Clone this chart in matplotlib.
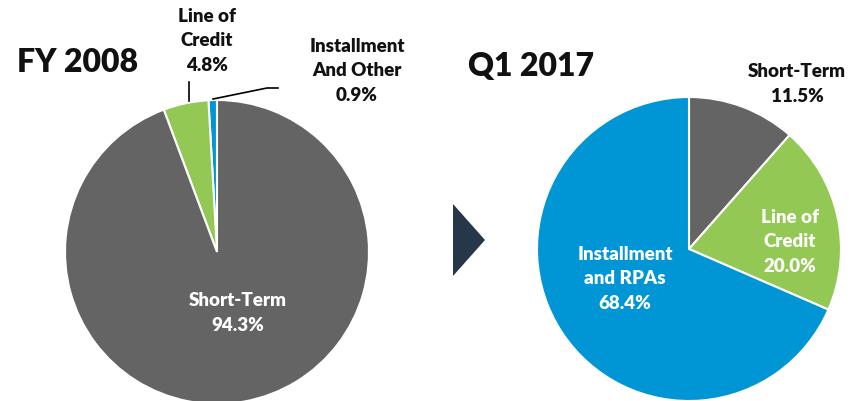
import matplotlib
matplotlib.use("Agg")
import matplotlib.pyplot as plt
from matplotlib.patches import Polygon

# ---- data ----
fy2008_labels = ["Installment And Other", "Line of Credit", "Short-Term"]
fy2008_values = [0.9, 4.8, 94.3]
fy2008_colors = ["#0096D6", "#92C853", "#646464"]

q12017_labels = ["Short-Term", "Line of Credit", "Installment and RPAs"]
q12017_values = [11.5, 20.0, 68.4]
q12017_colors = ["#646464", "#92C853", "#0096D6"]

W, H = 866, 402
DPI = 100
plt.rcParams['font.family'] = ['Lato', 'DejaVu Sans']

fig = plt.figure(figsize=(W / DPI, H / DPI), dpi=DPI)
fig.patch.set_facecolor("white")

def pie_axes(cx, cy, r):
    return fig.add_axes([(cx - r) / W, 1 - (cy + r) / H, 2 * r / W, 2 * r / H])

wp = dict(edgecolor="white", linewidth=1.5)

ax1 = pie_axes(217, 253, 152)
ax1.pie(fy2008_values, colors=fy2008_colors, startangle=90, counterclock=True,
        radius=1, wedgeprops=wp)
ax1.set_xlim(-1, 1); ax1.set_ylim(-1, 1); ax1.set_aspect("equal"); ax1.axis("off")

ax2 = pie_axes(689, 250, 152)
ax2.pie(q12017_values, colors=q12017_colors, startangle=90, counterclock=False,
        radius=1, wedgeprops=wp)
ax2.set_xlim(-1, 1); ax2.set_ylim(-1, 1); ax2.set_aspect("equal"); ax2.axis("off")

# overlay in pixel coordinates for titles, labels, leader lines, arrow
ov = fig.add_axes([0, 0, 1, 1], facecolor="none")
ov.set_xlim(0, W); ov.set_ylim(H, 0); ov.axis("off")

ov.text(78, 63, "FY 2008", fontsize=23, fontweight="heavy", ha="center", va="center", color="#111111")
ov.text(531, 67, "Q1 2017", fontsize=23, fontweight="heavy", ha="center", va="center", color="#111111")

lab = dict(fontsize=13.5, fontweight="heavy", ha="center", va="center", linespacing=1.55)
ov.text(207, 41, "Line of\nCredit\n" + f"{fy2008_values[1]}%", color="#111111", **lab)
ov.text(357, 71, "Installment\nAnd Other\n" + f"{fy2008_values[0]}%", color="#111111", **lab)
ov.text(238, 313, "Short-Term\n" + f"{fy2008_values[2]}%", color="white", **lab)

ov.text(797, 84, "Short-Term\n" + f"{q12017_values[0]}%", color="#111111", **lab)
ov.text(790, 242, "Line of\nCredit\n" + f"{q12017_values[1]:.1f}%", color="white", **lab)
ov.text(625, 279, "Installment\nand RPAs\n" + f"{q12017_values[2]}%", color="white", **lab)

# leader lines
ov.plot([189, 189], [83, 102], color="black", lw=1.2)
ov.plot([213, 267, 278], [100, 89, 89], color="black", lw=1.2)

# arrow
ov.add_patch(Polygon([[453, 205], [485, 241], [453, 277]], closed=True,
                     facecolor="#253748", edgecolor="none"))

fig.savefig("out.png", dpi=DPI, facecolor="white")
